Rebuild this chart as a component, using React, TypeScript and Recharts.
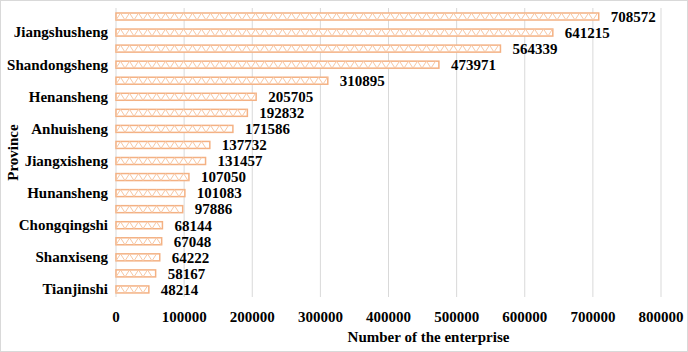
import React from "react";
import { Bar, BarChart, CartesianGrid, LabelList, XAxis, YAxis, Label } from "recharts";

const provinces = [
  "Guangdongsheng",
  "Jiangshusheng",
  "Zhejiangsheng",
  "Shandongsheng",
  "Fujiansheng",
  "Henansheng",
  "Hebeisheng",
  "Anhuisheng",
  "Hubeisheng",
  "Jiangxisheng",
  "Sichuansheng",
  "Hunansheng",
  "Beijingshi",
  "Chongqingshi",
  "Liaoningsheng",
  "Shanxiseng",
  "Guangxi",
  "Tianjinshi",
];

const enterprises = [
  708572, 641215, 564339, 473971, 310895, 205705, 192832, 171586, 137732,
  131457, 107050, 101083, 97886, 68144, 67048, 64222, 58167, 48214,
];

const xTicks = [0, 100000, 200000, 300000, 400000, 500000, 600000, 700000, 800000];

const data = provinces.map((name, i) => ({ name, value: enterprises[i] }));

const FONT = "'Liberation Serif', 'Times New Roman', serif";
const ORANGE = "#F4B183";
const ORANGE_LIGHT = "#F7C6A3";
const TEXT = { fontSize: 15, fontWeight: 700, fill: "#000", fontFamily: FONT };

// white bar with a thin orange outline and a zigzag hatch inside
function ZigzagBar(props: any) {
  const { x, y, width, height } = props;
  if (!width || width <= 0) return null;
  const step = 4.5;
  const pts: string[] = [];
  let up = false;
  for (let px = x; px <= x + width + 0.01; px += step) {
    pts.push(`${Math.min(px, x + width)},${up ? y : y + height}`);
    up = !up;
  }
  return (
    <g>
      <rect x={x} y={y} width={width} height={height} fill="#fff" stroke={ORANGE} strokeWidth={1.5} />
      <polyline points={pts.join(" ")} fill="none" stroke={ORANGE_LIGHT} strokeWidth={1} />
    </g>
  );
}

export default function App() {
  return (
    <div
      style={{
        position: "absolute",
        left: 0,
        top: 0,
        width: 686,
        height: 350,
        border: "1px solid #d9d9d9",
        background: "#fff",
        fontFamily: FONT,
      }}
    >
      <BarChart
        width={686}
        height={350}
        data={data}
        layout="vertical"
        margin={{ top: 7, right: 26, left: 0, bottom: 4 }}
        barSize={7}
      >
        <CartesianGrid horizontal={false} stroke="#d9d9d9" />
        <XAxis
          type="number"
          domain={[0, 800000]}
          ticks={xTicks}
          height={50}
          axisLine={false}
          tickLine={false}
          tickMargin={8}
          tick={TEXT}
        >
          <Label
            value="Number of the enterprise"
            position="insideBottom"
            offset={5}
            dx={40}
            style={TEXT}
          />
        </XAxis>
        <YAxis
          type="category"
          dataKey="name"
          width={115}
          interval={0}
          axisLine={false}
          tickLine={false}
          tickFormatter={(v: string, i: number) => (i % 2 === 1 ? v : "")}
          tick={TEXT}
        >
          <Label
            value="Province"
            angle={-90}
            position="insideLeft"
            offset={12}
            style={{ ...TEXT, textAnchor: "middle" }}
          />
        </YAxis>
        <Bar dataKey="value" shape={<ZigzagBar />} isAnimationActive={false}>
          <LabelList dataKey="value" position="right" offset={12} style={TEXT} />
        </Bar>
      </BarChart>
    </div>
  );
}
